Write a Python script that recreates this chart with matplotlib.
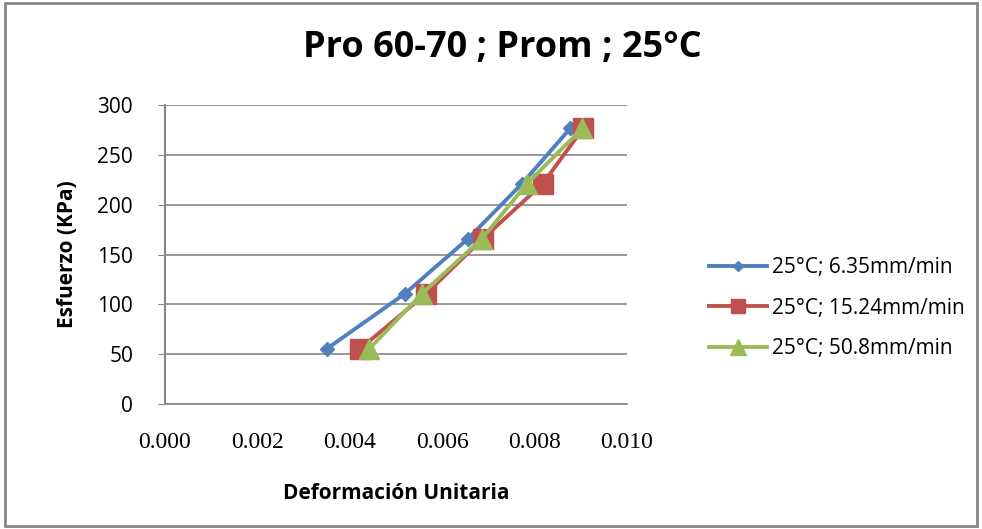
import matplotlib.pyplot as plt
from matplotlib.patches import Rectangle
from matplotlib.ticker import MultipleLocator, FormatStrFormatter

# Deformacion unitaria y esfuerzo (KPa) para cada velocidad de ensayo
deform_635 = [0.00350, 0.00519, 0.00656, 0.00773, 0.00877]
deform_1524 = [0.00422, 0.00565, 0.00688, 0.00818, 0.00905]
deform_508 = [0.00442, 0.00556, 0.00686, 0.00784, 0.00903]
esfuerzo = [55.3, 110.6, 165.9, 221.2, 276.5]

etiquetas = ["25°C; 6.35mm/min", "25°C; 15.24mm/min", "25°C; 50.8mm/min"]
colores = ["#4F81BD", "#C0504D", "#9BBB59"]

fig = plt.figure(figsize=(9.82, 5.29), dpi=100)
ax = fig.add_axes([0.168, 0.2363, 0.4705, 0.5652])

ax.plot(deform_635, esfuerzo, color=colores[0], lw=2.8, marker="D", ms=7, label=etiquetas[0])
ax.plot(deform_1524, esfuerzo, color=colores[1], lw=2.8, marker="s", ms=14, label=etiquetas[1])
ax.plot(deform_508, esfuerzo, color=colores[2], lw=2.8, marker="^", ms=15, label=etiquetas[2])

ax.set_xlim(0, 0.010)
ax.set_ylim(0, 300)
ax.xaxis.set_major_locator(MultipleLocator(0.002))
ax.xaxis.set_major_formatter(FormatStrFormatter("%.3f"))
ax.yaxis.set_major_locator(MultipleLocator(50))
ax.grid(axis="y", color="#868686", lw=1.2)
ax.set_axisbelow(True)

for lado in ["top", "right"]:
    ax.spines[lado].set_visible(False)
ax.spines["left"].set_color("#868686")
ax.spines["bottom"].set_color("#868686")
ax.spines["left"].set_linewidth(1.5)
ax.spines["bottom"].set_linewidth(1.2)
ax.tick_params(axis="x", length=0, pad=20)
ax.tick_params(axis="y", length=5, color="#868686", pad=18)
for t in ax.get_xticklabels():
    t.set_fontfamily("Liberation Serif")
    t.set_fontsize(17)
for t in ax.get_yticklabels():
    t.set_fontfamily("Open Sans")
    t.set_fontsize(15)

ax.set_xlabel("Deformación Unitaria", fontfamily="Open Sans", fontweight="bold", fontsize=15, labelpad=22)
ax.set_ylabel("Esfuerzo (KPa)", fontfamily="Open Sans", fontweight="bold", fontsize=15, labelpad=14)

fig.text(0.512, 0.91, "Pro 60-70 ; Prom ; 25°C", ha="center", va="center",
         fontfamily="Open Sans", fontweight="bold", fontsize=26)

leg = fig.legend(loc="upper left", bbox_to_anchor=(0.703, 0.55), frameon=False,
                 prop={"family": "Open Sans", "size": 15}, handlelength=2.8,
                 labelspacing=0.95, handletextpad=0.2, markerscale=0.75)

fig.patches.append(Rectangle((0.005, 0.006), 0.99, 0.988, transform=fig.transFigure,
                             fill=False, edgecolor="#868686", lw=2))

fig.savefig("out.png", dpi=100)
